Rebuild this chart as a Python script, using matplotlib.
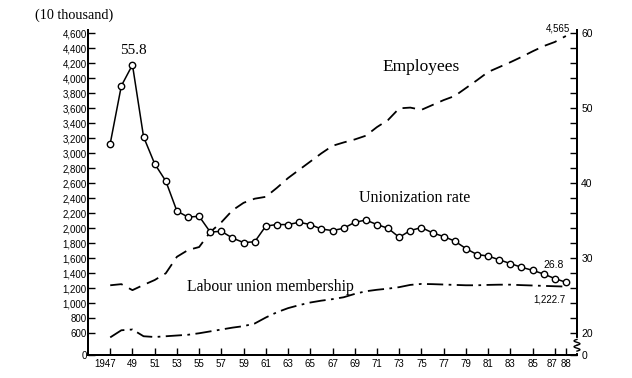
import numpy as np
import matplotlib.pyplot as plt
import matplotlib.transforms as mtransforms
from matplotlib.ticker import FixedLocator, FuncFormatter

# years 1947-1988
years = np.arange(1947, 1989)

# employees (10 thousand)
employees = [1240, 1255, 1175, 1245, 1310, 1400, 1620, 1710, 1750, 1950,
             2080, 2240, 2340, 2395, 2420, 2540, 2670, 2780, 2890, 3000,
             3100, 3145, 3185, 3235, 3350, 3445, 3600, 3610, 3580, 3645,
             3710, 3765, 3870, 3975, 4085, 4150, 4215, 4285, 4360, 4430,
             4485, 4565]

# labour union membership (10 thousand)
membership = [545, 640, 650, 560, 550, 560, 570, 580, 600, 625,
              650, 675, 695, 730, 810, 880, 935, 975, 1010, 1035,
              1055, 1080, 1125, 1160, 1180, 1195, 1215, 1245, 1258, 1255,
              1250, 1245, 1240, 1240, 1245, 1248, 1248, 1242, 1237, 1232,
              1227, 1222.7]

# unionization rate (%)
rate = [45.3, 53.0, 55.8, 46.2, 42.6, 40.3, 36.3, 35.5, 35.6, 33.5,
        33.6, 32.7, 32.1, 32.2, 34.3, 34.5, 34.5, 34.8, 34.5, 33.9,
        33.7, 34.0, 34.8, 35.1, 34.5, 34.0, 32.8, 33.7, 34.1, 33.4,
        32.9, 32.3, 31.3, 30.5, 30.3, 29.8, 29.3, 28.8, 28.4, 27.9,
        27.3, 26.8]

left_ticks = list(range(600, 4601, 200))
xtick_years = list(range(1947, 1988, 2)) + [1988]
xtick_labels = ["1947"] + [str(y % 100) for y in xtick_years[1:]]

sans = "Liberation Sans"
serif = "Liberation Serif"

fig = plt.figure(figsize=(6.32, 3.78), dpi=100)
ax = fig.add_axes([88/632, 1-355/378, (577-88)/632, (355-30)/378])
ax2 = ax.twinx()

ylo, yhi = 310, 4645
ax.set_ylim(ylo, yhi)
ax2.set_ylim(20 + (ylo-600)/100, 20 + (yhi-600)/100)
ax.set_xlim(1945, 1989)

ax.plot(years, employees, color='black', lw=1.3, dashes=(7, 4))
ax.plot(years, membership, color='black', lw=1.3, dashes=(9, 3, 1.5, 3))
ax2.plot(years, rate, color='black', lw=1.1, marker='o', ms=4.6,
         mfc='white', mec='black', mew=1.0)

for a in (ax, ax2):
    a.spines['top'].set_visible(False)
    for s in ('left', 'right', 'bottom'):
        a.spines[s].set_linewidth(1.4)

# left axis
ax.yaxis.set_major_locator(FixedLocator([ylo] + left_ticks))
ax.yaxis.set_major_formatter(FuncFormatter(lambda v, p: "0" if v < 600 else f"{int(v):,}"))
ax.tick_params(axis='y', direction='in', length=5, width=1.0, pad=1,
               labelsize=7, labelfontfamily=sans)

# right axis
ax2.yaxis.set_major_locator(FixedLocator([20 + (ylo-600)/100, 20, 30, 40, 50, 60]))
ax2.yaxis.set_minor_locator(FixedLocator([v for v in range(22, 60, 2) if v % 10]))
ax2.yaxis.set_major_formatter(FuncFormatter(lambda v, p: "0" if v < 19 else f"{int(round(v))}"))
ax2.tick_params(axis='y', which='both', direction='in', length=5, width=1.0, pad=3,
                labelsize=7.5, labelfontfamily=sans)

# x axis
ax.set_xticks(xtick_years)
ax.set_xticklabels(xtick_labels)
ax.tick_params(axis='x', direction='in', length=5, width=1.0, pad=3,
               labelsize=7, labelfontfamily=sans)
# spread the crowded labels at both ends a little
xlabels = ax.get_xticklabels()
for lab, dx in ((xlabels[0], -5), (xlabels[-2], -3)):
    lab.set_transform(lab.get_transform() +
                      mtransforms.ScaledTranslation(dx/100, 0, fig.dpi_scale_trans))

# break mark on right axis
ax2.plot([1, 1], [0.012, 0.045], transform=ax2.transAxes, color='white',
         lw=3, clip_on=False, zorder=5)
t = np.linspace(0, 1, 30)
for y0 in (0.012, 0.030):
    ax2.plot(1 + 0.006*np.sin(t*np.pi*2), y0 + 0.018*t, transform=ax2.transAxes,
             color='black', lw=1.0, clip_on=False, zorder=6)

# labels
ax.text(1975.0, 4150, "Employees", family=serif, fontsize=12.5, ha='center', va='center')
ax2.text(1974.4, 38.1, "Unionization rate", family=serif, fontsize=11.5, ha='center', va='center')
ax.text(1953.9, 1221, "Labour union membership", family=serif, fontsize=11.3, ha='left', va='center')
ax2.text(1949.1, 57.7, "55.8", family=serif, fontsize=11, ha='center', va='center')
ax.text(1988.4, 4660, "4,565", family=sans, fontsize=7, ha='right', va='center')
ax2.text(1986.9, 29.1, "26.8", family=sans, fontsize=7.5, ha='center', va='center')
ax.text(1988.0, 1053, "1,222.7", family=sans, fontsize=7, ha='right', va='center')
fig.text(35/632, 1-15/378, "(10 thousand)", family=serif, fontsize=10.2, ha='left', va='center')

fig.savefig("out.png", dpi=100)
